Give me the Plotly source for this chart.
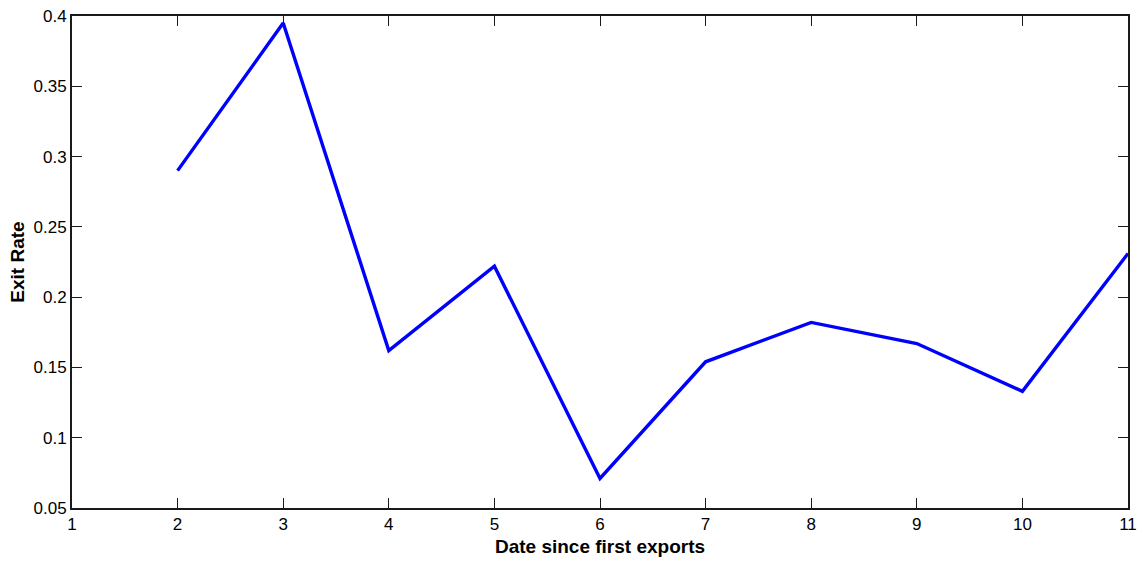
import plotly.graph_objects as go

dates = [2, 3, 4, 5, 6, 7, 8, 9, 10, 11]
exit_rate = [0.290, 0.395, 0.162, 0.222, 0.071, 0.154, 0.182, 0.167, 0.133, 0.231]

x_ticks = list(range(1, 12))
y_ticks = [0.05, 0.1, 0.15, 0.2, 0.25, 0.3, 0.35, 0.4]
y_tick_text = ["0.05", "0.1", "0.15", "0.2", "0.25", "0.3", "0.35", "0.4"]

fig = go.Figure()
fig.add_trace(go.Scatter(x=dates, y=exit_rate, mode="lines",
                         line=dict(color="#0000ff", width=3.4), showlegend=False))

axis_common = dict(showline=True, linecolor="#1a1a1a", linewidth=2, mirror="ticks",
                   ticks="inside", ticklen=10, tickcolor="#1a1a1a", tickwidth=1,
                   showgrid=False, zeroline=False, automargin=False,
                   tickfont=dict(family="Liberation Sans, Arial", size=17, color="#000"))

fig.update_xaxes(range=[1, 11], tickvals=x_ticks, ticktext=[str(v) for v in x_ticks],
                 title=dict(text="<b>Date since first exports</b>", standoff=6,
                            font=dict(family="Liberation Sans, Arial", size=19, color="#000")),
                 **axis_common)
fig.update_yaxes(range=[0.05, 0.4], tickvals=y_ticks, ticktext=y_tick_text,
                 title=dict(text="<b>Exit Rate</b>", standoff=4,
                            font=dict(family="Liberation Sans, Arial", size=19, color="#000")),
                 **axis_common)

fig.update_layout(width=1137, height=565, margin=dict(l=72, r=9, t=16, b=57),
                  plot_bgcolor="white", paper_bgcolor="white")

fig.write_html("out.html")
